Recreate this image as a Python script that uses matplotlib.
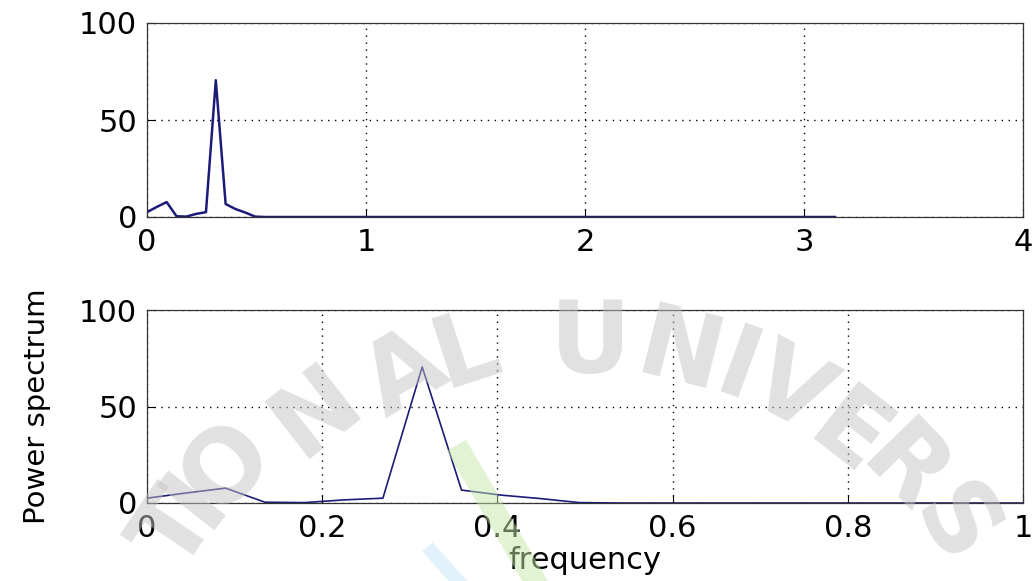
import numpy as np
import matplotlib
matplotlib.use("Agg")
import matplotlib.pyplot as plt

plt.rcParams['font.family'] = ['DejaVu Sans']

# power spectrum samples (0 .. pi, 71 bins)
freq = np.linspace(0, np.pi, 71)
power = [2.5, 5.2, 7.7, 0.4, 0.2, 1.6, 2.5, 70.5, 6.7, 4.1, 2.3, 0.2] + [0.0] * 59

top_xticks = [0, 1, 2, 3, 4]
bot_xticks = [0, 0.2, 0.4, 0.6, 0.8, 1]
yticks = [0, 50, 100]
line_col = '#1c1c78'

# watermark letters: pixel position and rotation
wm_chars = list("TIONALUNIVERS")
wm_x = [176, 196, 228, 317, 405, 467, 590, 680, 738, 790, 848, 903, 952]
wm_y = [532, 498, 468, 412, 375, 352, 345, 355, 372, 392, 437, 472, 527]
wm_rot = [56, 52, 45, 38, 30, 18, 0, -14, -20, -28, -38, -46, -58]

fig = plt.figure(figsize=(10.34, 5.81), dpi=100)
W, H = 1034, 581
ax1 = fig.add_axes([147 / W, 1 - 217 / H, 876 / W, 194 / H])
ax2 = fig.add_axes([147 / W, 1 - 503 / H, 876 / W, 193 / H])

for ax, xt, lw in [(ax1, top_xticks, 1.8), (ax2, bot_xticks, 1.2)]:
    ax.plot(freq, power, color=line_col, lw=lw)
    ax.set_xlim(xt[0], xt[-1])
    ax.set_ylim(0, 100)
    ax.set_xticks(xt)
    ax.set_xticklabels([('%g' % v) for v in xt])
    ax.set_yticks(yticks)
    ax.grid(True, color='black', linestyle=(0, (1, 4)), linewidth=1.0)
    ax.tick_params(direction='in', length=6, width=0.8, labelsize=22)
    ax.tick_params(axis='x', pad=8)
    ax.tick_params(axis='y', pad=7)
    for s in ax.spines.values():
        s.set_linewidth(0.9)
        s.set_color('#333333')

ax2.set_xlabel('frequency', fontsize=22, labelpad=2)
ax2.set_ylabel('Power spectrum', fontsize=21, labelpad=20)

# faint watermark
for ch, x, y, r in zip(wm_chars, wm_x, wm_y, wm_rot):
    fig.text(x / W, 1 - y / H, ch, fontsize=72, fontweight='bold',
             color='#c4c4c4', alpha=0.5,
             rotation=r, ha='center', va='center', zorder=10)

# coloured streaks of the watermark logo
fig.add_artist(plt.Line2D([462 / W, 535 / W], [1 - 455 / H, 1 - 581 / H],
                          color='#c4e8a8', alpha=0.5, lw=16, zorder=9))
fig.add_artist(plt.Line2D([432 / W, 458 / W], [1 - 552 / H, 1 - 581 / H],
                          color='#b8e0f4', alpha=0.4, lw=10, zorder=9))

fig.savefig('out.png', dpi=100)
